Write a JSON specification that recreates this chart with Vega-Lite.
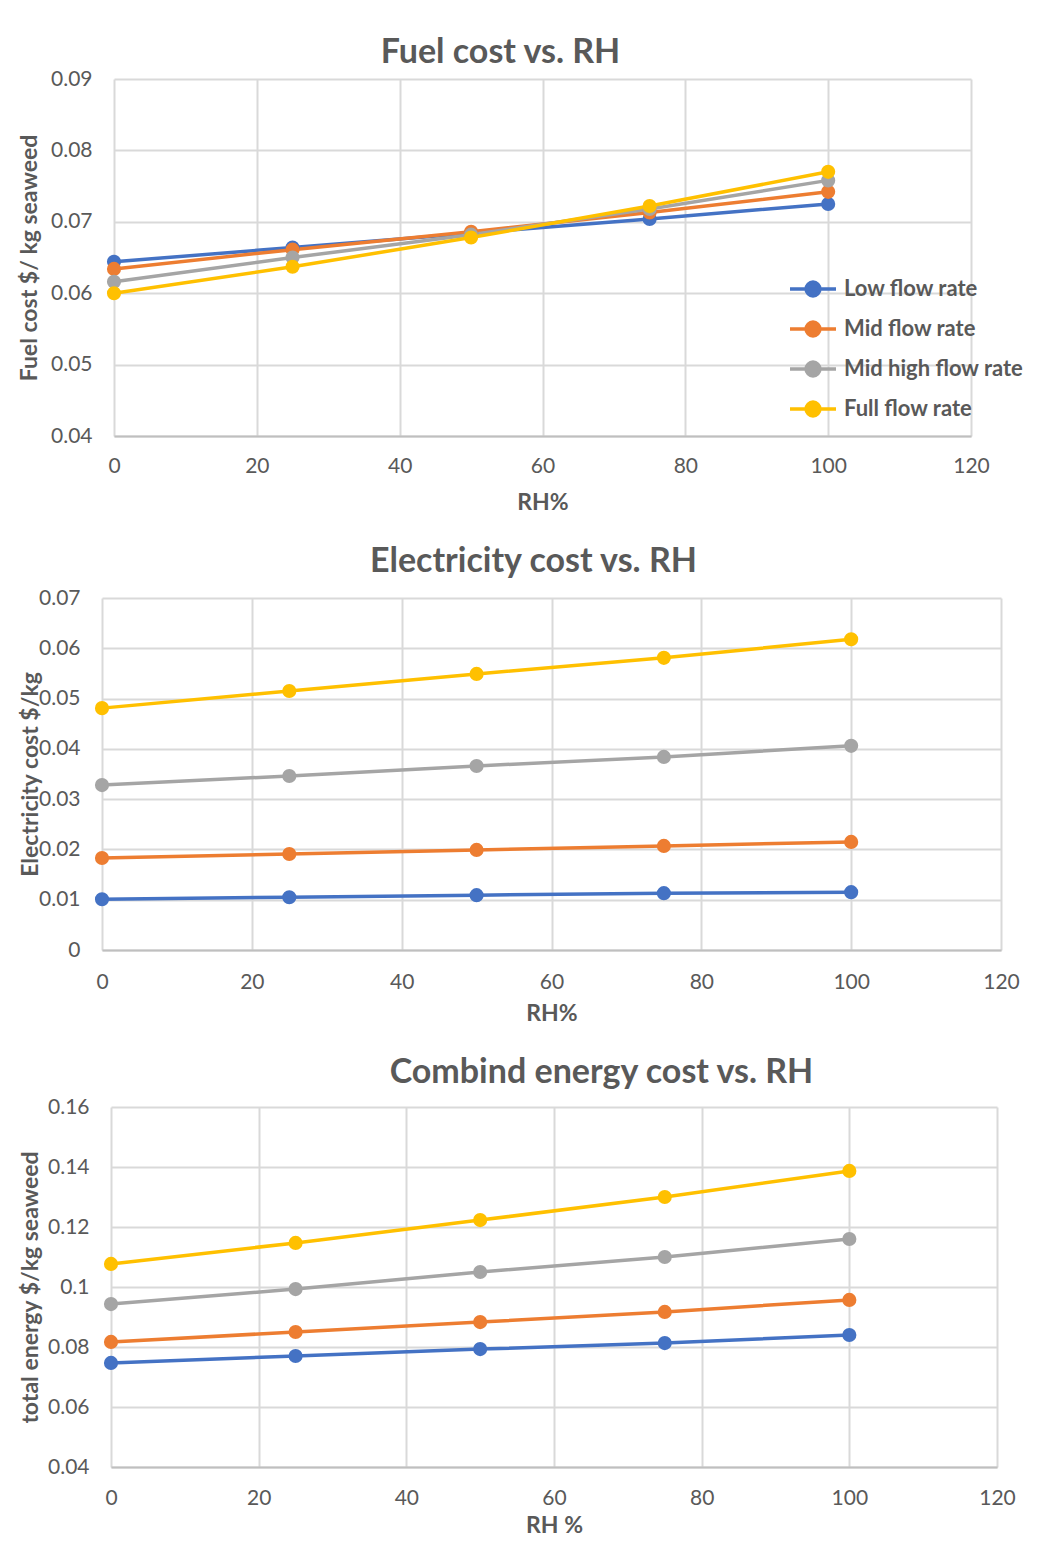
{
  "$schema": "https://vega.github.io/schema/vega-lite/v6.json",
  "background": "white",
  "padding": {"left": 18, "top": 36, "right": 10, "bottom": 0},
  "spacing": 31,
  "config": {
    "font": "Lato",
    "view": {"stroke": null},
    "axis": {
      "labelFont": "Lato",
      "labelFontSize": 21,
      "labelColor": "#595959",
      "titleFont": "Lato",
      "titleFontSize": 23,
      "titleFontWeight": "bold",
      "titleColor": "#595959",
      "gridColor": "#d9d9d9",
      "gridWidth": 2,
      "domainColor": "#d9d9d9",
      "domainWidth": 2,
      "ticks": false
    },
    "axisX": {"labelFlush": false},
    "axisY": {"domain": false},
    "title": {"font": "Lato", "fontSize": 34, "fontWeight": "bold", "color": "#595959", "frame": "group", "anchor": "middle"}
  },
  "datasets": {
    "fuel": [
      {"series": "Low flow rate", "rh": 0, "cost": 0.0644},
      {"series": "Low flow rate", "rh": 25, "cost": 0.0664},
      {"series": "Low flow rate", "rh": 50, "cost": 0.0684},
      {"series": "Low flow rate", "rh": 75, "cost": 0.0704},
      {"series": "Low flow rate", "rh": 100, "cost": 0.0725},
      {"series": "Mid flow rate", "rh": 0, "cost": 0.0634},
      {"series": "Mid flow rate", "rh": 25, "cost": 0.0661},
      {"series": "Mid flow rate", "rh": 50, "cost": 0.0686},
      {"series": "Mid flow rate", "rh": 75, "cost": 0.0713},
      {"series": "Mid flow rate", "rh": 100, "cost": 0.0742},
      {"series": "Mid high flow rate", "rh": 0, "cost": 0.0616},
      {"series": "Mid high flow rate", "rh": 25, "cost": 0.065},
      {"series": "Mid high flow rate", "rh": 50, "cost": 0.0682},
      {"series": "Mid high flow rate", "rh": 75, "cost": 0.0718},
      {"series": "Mid high flow rate", "rh": 100, "cost": 0.0758},
      {"series": "Full flow rate", "rh": 0, "cost": 0.06},
      {"series": "Full flow rate", "rh": 25, "cost": 0.0637},
      {"series": "Full flow rate", "rh": 50, "cost": 0.0678},
      {"series": "Full flow rate", "rh": 75, "cost": 0.0722},
      {"series": "Full flow rate", "rh": 100, "cost": 0.077}
    ],
    "electricity": [
      {"series": "Low flow rate", "rh": 0, "cost": 0.0101},
      {"series": "Low flow rate", "rh": 25, "cost": 0.0105},
      {"series": "Low flow rate", "rh": 50, "cost": 0.0109},
      {"series": "Low flow rate", "rh": 75, "cost": 0.0113},
      {"series": "Low flow rate", "rh": 100, "cost": 0.0115},
      {"series": "Mid flow rate", "rh": 0, "cost": 0.0183},
      {"series": "Mid flow rate", "rh": 25, "cost": 0.0191},
      {"series": "Mid flow rate", "rh": 50, "cost": 0.0199},
      {"series": "Mid flow rate", "rh": 75, "cost": 0.0207},
      {"series": "Mid flow rate", "rh": 100, "cost": 0.0215},
      {"series": "Mid high flow rate", "rh": 0, "cost": 0.0328},
      {"series": "Mid high flow rate", "rh": 25, "cost": 0.0346},
      {"series": "Mid high flow rate", "rh": 50, "cost": 0.0366},
      {"series": "Mid high flow rate", "rh": 75, "cost": 0.0384},
      {"series": "Mid high flow rate", "rh": 100, "cost": 0.0406},
      {"series": "Full flow rate", "rh": 0, "cost": 0.0481},
      {"series": "Full flow rate", "rh": 25, "cost": 0.0515},
      {"series": "Full flow rate", "rh": 50, "cost": 0.0549},
      {"series": "Full flow rate", "rh": 75, "cost": 0.0581},
      {"series": "Full flow rate", "rh": 100, "cost": 0.0618}
    ],
    "combined": [
      {"series": "Low flow rate", "rh": 0, "cost": 0.0747},
      {"series": "Low flow rate", "rh": 25, "cost": 0.077},
      {"series": "Low flow rate", "rh": 50, "cost": 0.0793},
      {"series": "Low flow rate", "rh": 75, "cost": 0.0813},
      {"series": "Low flow rate", "rh": 100, "cost": 0.084},
      {"series": "Mid flow rate", "rh": 0, "cost": 0.0817},
      {"series": "Mid flow rate", "rh": 25, "cost": 0.085},
      {"series": "Mid flow rate", "rh": 50, "cost": 0.0883},
      {"series": "Mid flow rate", "rh": 75, "cost": 0.0917},
      {"series": "Mid flow rate", "rh": 100, "cost": 0.0957},
      {"series": "Mid high flow rate", "rh": 0, "cost": 0.0943},
      {"series": "Mid high flow rate", "rh": 25, "cost": 0.0993},
      {"series": "Mid high flow rate", "rh": 50, "cost": 0.105},
      {"series": "Mid high flow rate", "rh": 75, "cost": 0.11},
      {"series": "Mid high flow rate", "rh": 100, "cost": 0.116},
      {"series": "Full flow rate", "rh": 0, "cost": 0.1077},
      {"series": "Full flow rate", "rh": 25, "cost": 0.1147},
      {"series": "Full flow rate", "rh": 50, "cost": 0.1223},
      {"series": "Full flow rate", "rh": 75, "cost": 0.13},
      {"series": "Full flow rate", "rh": 100, "cost": 0.1387}
    ]
  },
  "resolve": {"scale": {"color": "independent"}, "legend": {"color": "independent"}},
  "vconcat": [
    {
      "width": 869,
      "height": 357,
      "title": {"text": "Fuel cost vs. RH", "dx": -36, "offset": -2},
      "data": {"name": "fuel"},
      "encoding": {
        "x": {"field": "rh", "type": "quantitative", "scale": {"domain": [0, 120], "nice": false, "range": [12, 869]},
          "axis": {"values": [0, 20, 40, 60, 80, 100, 120], "title": "RH%", "labelPadding": 19, "titlePadding": 15, "domainColor": "#bfbfbf"}},
        "y": {"field": "cost", "type": "quantitative", "scale": {"domain": [0.04, 0.09], "nice": false, "zero": false},
          "axis": {"values": [0.04, 0.05, 0.06, 0.07, 0.08, 0.09], "format": "~g", "title": "Fuel cost $/ kg seaweed", "labelPadding": 10, "titlePadding": 9}},
        "color": {"field": "series", "type": "nominal",
          "scale": {"domain": ["Low flow rate", "Mid flow rate", "Mid high flow rate", "Full flow rate"], "range": ["#4472C4", "#ED7D31", "#A5A5A5", "#FFC000"]},
          "legend": {"orient": "none", "legendX": 686, "legendY": 185, "title": null,
            "symbolType": "M-1,0L1,0M0.3,0A0.3,0.3,0,1,1,-0.3,0A0.3,0.3,0,1,1,0.3,0",
            "symbolSize": 2116, "symbolStrokeWidth": 3.5, "symbolOpacity": 1,
            "labelFont": "Lato", "labelFontSize": 22, "labelFontWeight": "bold", "labelColor": "#595959",
            "labelLimit": 400, "rowPadding": 1, "labelOffset": 6}}
      },
      "layer": [
        {"mark": {"type": "line", "strokeWidth": 3.5}},
        {"mark": {"type": "point", "filled": true, "size": 200, "opacity": 1}}
      ]
    },
    {
      "width": 899,
      "height": 352,
      "title": {"text": "Electricity cost vs. RH", "dx": -18, "offset": 8},
      "data": {"name": "electricity"},
      "encoding": {
        "x": {"field": "rh", "type": "quantitative", "scale": {"domain": [0, 120], "nice": false},
          "axis": {"values": [0, 20, 40, 60, 80, 100, 120], "title": "RH%", "labelPadding": 21, "titlePadding": 10, "domainColor": "#bfbfbf"}},
        "y": {"field": "cost", "type": "quantitative", "scale": {"domain": [0, 0.07], "nice": false},
          "axis": {"values": [0, 0.01, 0.02, 0.03, 0.04, 0.05, 0.06, 0.07], "format": "~g", "title": "Electricity cost $/kg", "labelPadding": 22, "titlePadding": -4}},
        "color": {"field": "series", "type": "nominal",
          "scale": {"domain": ["Low flow rate", "Mid flow rate", "Mid high flow rate", "Full flow rate"], "range": ["#4472C4", "#ED7D31", "#A5A5A5", "#FFC000"]},
          "legend": null}
      },
      "layer": [
        {"mark": {"type": "line", "strokeWidth": 3.5}},
        {"mark": {"type": "point", "filled": true, "size": 200, "opacity": 1}}
      ]
    },
    {
      "width": 895,
      "height": 360,
      "title": {"text": "Combind energy cost vs. RH", "dx": 52, "offset": 6},
      "data": {"name": "combined"},
      "encoding": {
        "x": {"field": "rh", "type": "quantitative", "scale": {"domain": [0, 120], "nice": false, "range": [9, 895]},
          "axis": {"values": [0, 20, 40, 60, 80, 100, 120], "title": "RH %", "labelPadding": 20, "titlePadding": 6, "domainColor": "#bfbfbf"}},
        "y": {"field": "cost", "type": "quantitative", "scale": {"domain": [0.04, 0.16], "nice": false, "zero": false},
          "axis": {"values": [0.04, 0.06, 0.08, 0.1, 0.12, 0.14, 0.16], "format": "~g", "title": "total energy $/kg seaweed", "labelPadding": 13, "titlePadding": 5}},
        "color": {"field": "series", "type": "nominal",
          "scale": {"domain": ["Low flow rate", "Mid flow rate", "Mid high flow rate", "Full flow rate"], "range": ["#4472C4", "#ED7D31", "#A5A5A5", "#FFC000"]},
          "legend": null}
      },
      "layer": [
        {"mark": {"type": "line", "strokeWidth": 3.5}},
        {"mark": {"type": "point", "filled": true, "size": 200, "opacity": 1}}
      ]
    }
  ]
}
